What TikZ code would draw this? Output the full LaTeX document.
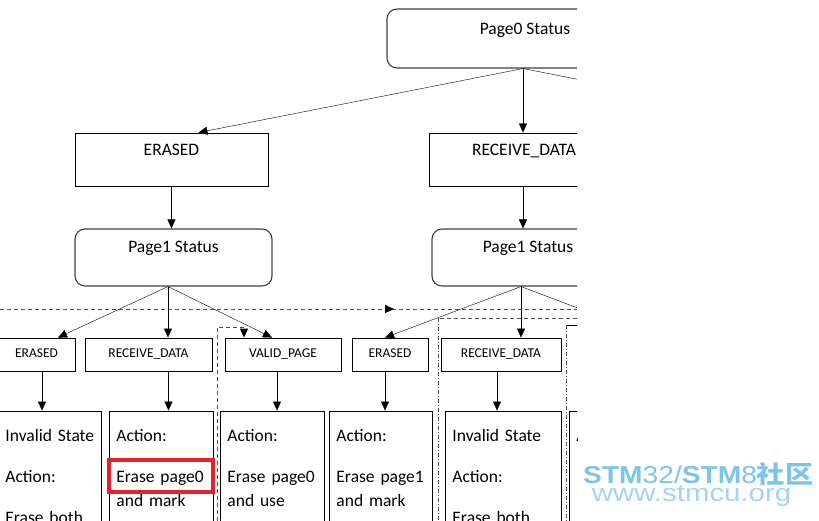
\documentclass[tikz,border=0pt]{standalone}
\usepackage{fontspec}
\setmainfont{Carlito}
\setsansfont{Liberation Sans}
\newfontfamily\cjk{Noto Sans CJK SC}
\usetikzlibrary{arrows.meta}
\definecolor{wmblue}{HTML}{7DC3EA}
\definecolor{wmlight}{HTML}{A3D4F0}
\definecolor{hired}{HTML}{E8202A}
\tikzset{
  status/.style={draw=black!75,line width=1.1pt,rounded corners=10pt,inner sep=0pt,anchor=base,font=\fontsize{17.5}{21}\selectfont},
  state/.style={draw,line width=0.9pt,inner sep=0pt,anchor=base,font=\fontsize{17.5}{21}\selectfont},
  substate/.style={draw,line width=0.9pt,inner sep=0pt,anchor=base,text height=19.7pt,text depth=13.3pt,font=\fontsize{13.5}{16}\selectfont},
  action/.style={draw,line width=0.9pt,anchor=base west,inner xsep=7pt,inner ysep=0pt,align=left,text height=30.5pt,text depth=150pt,font=\fontsize{17.5}{24}\selectfont},
  arr/.style={-{Triangle[length=9pt,width=8pt,color=black]}},
  flow/.style={draw=black!70,line width=0.9pt,dash pattern=on 4pt off 3pt},
  flowdot/.style={draw=black!70,line width=0.9pt,dash pattern=on 4pt off 2pt on 1pt off 2pt},
}
\begin{document}
\begin{tikzpicture}[x=1pt,y=-1pt]
  \useasboundingbox (0,0) rectangle (819,521);
  \begin{scope}
    \clip (0,0) rectangle (577,521);
    \node[status,minimum width=276pt,text height=26pt,text depth=33pt] (p0) at (525,35) {Page0 Status};
    \node[state,minimum width=193pt,text height=22.7pt,text depth=30.3pt] (e0) at (171.5,155.7) {ERASED};
    \node[state,minimum width=190pt,text height=22.7pt,text depth=30.3pt] (r0) at (524,155.7) {RECEIVE\_DATA};
    \node[status,minimum width=197pt,text height=23.7pt,text depth=33.3pt] (p1l) at (173.5,252.7) {Page1 Status};
    \node[status,minimum width=192pt,text height=23.7pt,text depth=33.3pt] (p1r) at (528,252.7) {Page1 Status};
    % second level
    \node[substate,minimum width=77pt] (ee) at (36.5,357.7) {ERASED};
    \node[substate,minimum width=127pt] (er) at (148.5,357.7) {RECEIVE\_DATA};
    \node[substate,minimum width=116pt] (ev) at (283,357.7) {VALID\_PAGE};
    \node[substate,minimum width=76pt] (re) at (390,357.7) {ERASED};
    \node[substate,minimum width=120pt] (rr) at (501,357.7) {RECEIVE\_DATA};
    % actions
    \node[action,text width=89pt] (a1) at (-2,441.5) {Invalid~State\\[17pt]Action:\\[17pt]Erase~both};
    \node[action,text width=90pt] (a2) at (109,441.5) {Action:\\[17pt]Erase~page0\\and~mark};
    \node[action,text width=90pt] (a3) at (220,441.5) {Action:\\[17pt]Erase~page0\\and~use};
    \node[action,text width=89pt] (a4) at (329,441.5) {Action:\\[17pt]Erase~page1\\and~mark};
    \node[action,text width=102pt] (a5) at (445,441.5) {Invalid~State\\[17pt]Action:\\[17pt]Erase~both};
    \node[action,text width=90pt] (a6) at (569,441.5) {Action:};
    \node[draw=hired,line width=3.5pt,minimum width=104pt,minimum height=32pt,inner sep=0pt] (mark) at (161,476) {};
    \path (p0.south) ++(-2,0) coordinate (p0a);
    \path (846,132) coordinate (p0c);
    \path (p1l.south) ++(-5.5,0) coordinate (p1la);
    \path (p1r.south) ++(-7,0) coordinate (p1ra);
    \path (657,338) coordinate (p1rc);
    \draw[arr] (p0a) -- ([xshift=27pt]e0.north);
    \draw[arr] (p0a) -- (p0a |- r0.north);
    \draw (p0a) -- (p0c);
    \draw[arr] (e0.south) -- (e0.south |- p1l.north);
    \draw[arr] (p0a |- r0.south) -- (p0a |- p1r.north);
    \draw[arr] (p1la) -- ([xshift=21.5pt]ee.north);
    \draw[arr] (p1la) -- (p1la |- er.north);
    \draw[arr] (p1la) -- ([xshift=-11pt]ev.north);
    \draw[arr] (p1ra) -- ([xshift=-5pt]re.north);
    \draw[arr] (p1ra) -- (p1ra |- rr.north);
    \draw (p1ra) -- (p1rc);
    \draw[arr] ([xshift=5.5pt]ee.south) -- ([xshift=5.5pt]ee.south |- a1.north);
    \draw[arr] ([xshift=20pt]er.south) -- ([xshift=20pt]er.south |- a2.north);
    \draw[arr] ([xshift=-6pt]ev.south) -- ([xshift=-6pt]ev.south |- a3.north);
    \draw[arr] ([xshift=-5pt]re.south) -- ([xshift=-5pt]re.south |- a4.north);
    \draw[arr] ([xshift=-4pt]rr.south) -- ([xshift=-4pt]rr.south |- a5.north);
    % dashed flows
    \path (0,309) coordinate (d1s) (394,309) coordinate (d1m) (577,309) coordinate (d1e);
    \draw[flow] (d1s) -- (d1e);
    \draw[flow,arr] (d1s) -- (d1m);
    \path (438,318) coordinate (d2) (577,318) coordinate (d2e) (438,521) coordinate (d2b);
    \draw[flow] (d2e) -- (d2);
    \draw[flowdot] (d2) -- (d2b);
    \path (566,325) coordinate (d3) (577,325) coordinate (d3e) (566,521) coordinate (d3b);
    \draw[line width=0.9pt] (d3e) -- (d3);
    \draw[flowdot] (d3) -- (d3b);
    \path (217,327) coordinate (d4) (244,327) coordinate (d4r) (217,521) coordinate (d4b);
    \draw[flow,arr] (d4b) -- (d4) -- (d4r) -- (d4r |- ev.north);
  \end{scope}
  \node[anchor=base west,inner sep=0pt,text depth=0pt,text=wmblue,font=\sffamily\fontsize{24.5}{28}\selectfont] (wm1) at (583,483.3)
    {\scalebox{1.15}[1]{\textbf{STM}32/\textbf{STM}8{\cjk\bfseries 社区}}};
  \node[anchor=base west,inner sep=0pt,text height=13pt,text=wmlight,font=\sffamily\fontsize{24.5}{28}\selectfont] (wm2) at (591.7,501.7)
    {\scalebox{1.2}[1]{www.stmcu.org}};
\end{tikzpicture}
\end{document}
